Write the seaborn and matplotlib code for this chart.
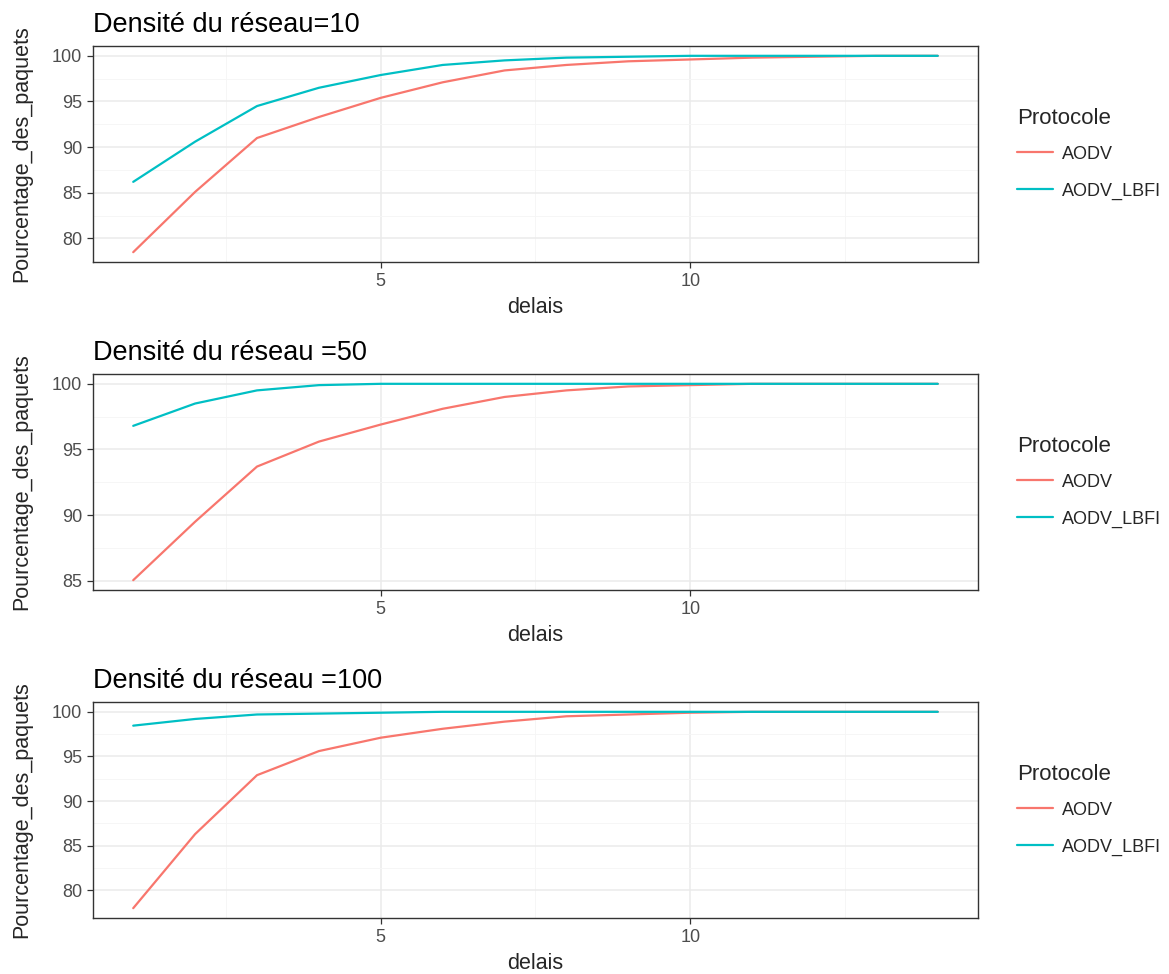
import numpy as np
import pandas as pd
import matplotlib
matplotlib.use("Agg")
import matplotlib.pyplot as plt
from matplotlib.lines import Line2D
import seaborn as sns

# ---- data ----
delais = list(range(1, 15))

aodv_10 = [78.5, 85.1, 91.0, 93.3, 95.4, 97.1, 98.4, 99.0, 99.4, 99.6, 99.8, 99.9, 100.0, 100.0]
lbfi_10 = [86.2, 90.6, 94.5, 96.5, 97.9, 99.0, 99.5, 99.8, 99.9, 100.0, 100.0, 100.0, 100.0, 100.0]

aodv_50 = [85.05, 89.5, 93.7, 95.6, 96.9, 98.1, 99.0, 99.5, 99.8, 99.9, 100.0, 100.0, 100.0, 100.0]
lbfi_50 = [96.8, 98.5, 99.5, 99.9, 100.0, 100.0, 100.0, 100.0, 100.0, 100.0, 100.0, 100.0, 100.0, 100.0]

aodv_100 = [78.0, 86.3, 92.9, 95.6, 97.1, 98.1, 98.9, 99.5, 99.7, 99.9, 100.0, 100.0, 100.0, 100.0]
lbfi_100 = [98.45, 99.2, 99.7, 99.8, 99.9, 100.0, 100.0, 100.0, 100.0, 100.0, 100.0, 100.0, 100.0, 100.0]

titles = ["Densité du réseau=10", "Densité du réseau =50", "Densité du réseau =100"]
protocoles = ["AODV", "AODV_LBFI"]
palette = {"AODV": "#F8766D", "AODV_LBFI": "#00BFC4"}

panels = [(aodv_10, lbfi_10), (aodv_50, lbfi_50), (aodv_100, lbfi_100)]

# ---- style ----
sns.set_style("white")
plt.rcParams["font.family"] = ["Liberation Sans", "DejaVu Sans"]
plt.rcParams["xtick.bottom"] = True
plt.rcParams["ytick.left"] = True

W, H = 1169, 974
fig = plt.figure(figsize=(W / 100, H / 100), dpi=100)

# panel boxes in pixels: (left, top, right, bottom)
boxes = [(93, 46, 978, 262), (93, 374, 978, 590), (93, 702, 978, 918)]

for (aodv, lbfi), title, (l, t, r, b) in zip(panels, titles, boxes):
    ax = fig.add_axes([l / W, 1 - b / H, (r - l) / W, (b - t) / H])
    df = pd.DataFrame({
        "delais": delais * 2,
        "Pourcentage_des_paquets": aodv + lbfi,
        "Protocole": ["AODV"] * len(delais) + ["AODV_LBFI"] * len(delais),
    })
    sns.lineplot(data=df, x="delais", y="Pourcentage_des_paquets", hue="Protocole",
                 palette=palette, linewidth=1.6, ax=ax, legend=False, zorder=3)

    # ggplot-like 5% expansion
    ymin, ymax = min(aodv + lbfi), max(aodv + lbfi)
    dy = (ymax - ymin) * 0.05
    ax.set_ylim(ymin - dy, ymax + dy)
    ax.set_xlim(1 - 13 * 0.05, 14 + 13 * 0.05)

    ax.set_xticks([5, 10])
    ax.set_xticks([2.5, 7.5, 12.5], minor=True)
    yt = np.arange(80, 101, 5)
    yt = yt[(yt >= ymin - dy) & (yt <= ymax + dy)]
    ax.set_yticks(yt)
    ax.set_yticks(yt[:-1] + 2.5, minor=True)
    ax.grid(True, which="major", color="#EBEBEB", linewidth=1.1, zorder=0)
    ax.grid(True, which="minor", color="#F5F5F5", linewidth=0.6, zorder=0)
    ax.set_axisbelow(True)

    for s in ax.spines.values():
        s.set_color("#333333")
        s.set_linewidth(1.0)
    ax.tick_params(axis="both", which="major", length=4, width=0.9, color="#333333",
                   labelsize=13, labelcolor="#4D4D4D", pad=4)
    ax.tick_params(axis="both", which="minor", length=0)

    ax.set_title(title, loc="left", fontsize=19.5, pad=10, color="black")
    ax.set_xlabel("delais", fontsize=15.5, labelpad=5)
    ax.set_ylabel("Pourcentage_des_paquets", fontsize=15.5, labelpad=14)

    handles = [Line2D([0], [0], color=palette[p], linewidth=1.6) for p in protocoles]
    leg = ax.legend(handles, protocoles, title="Protocole", loc="center left",
                    bbox_to_anchor=(1.03, 0.5), frameon=False, fontsize=13,
                    title_fontsize=16, handlelength=2.0, labelspacing=1.1,
                    handletextpad=0.5, borderpad=0.2)
    leg._legend_box.align = "left"
    leg._legend_box.sep = 12

fig.savefig("out.png", dpi=100)
